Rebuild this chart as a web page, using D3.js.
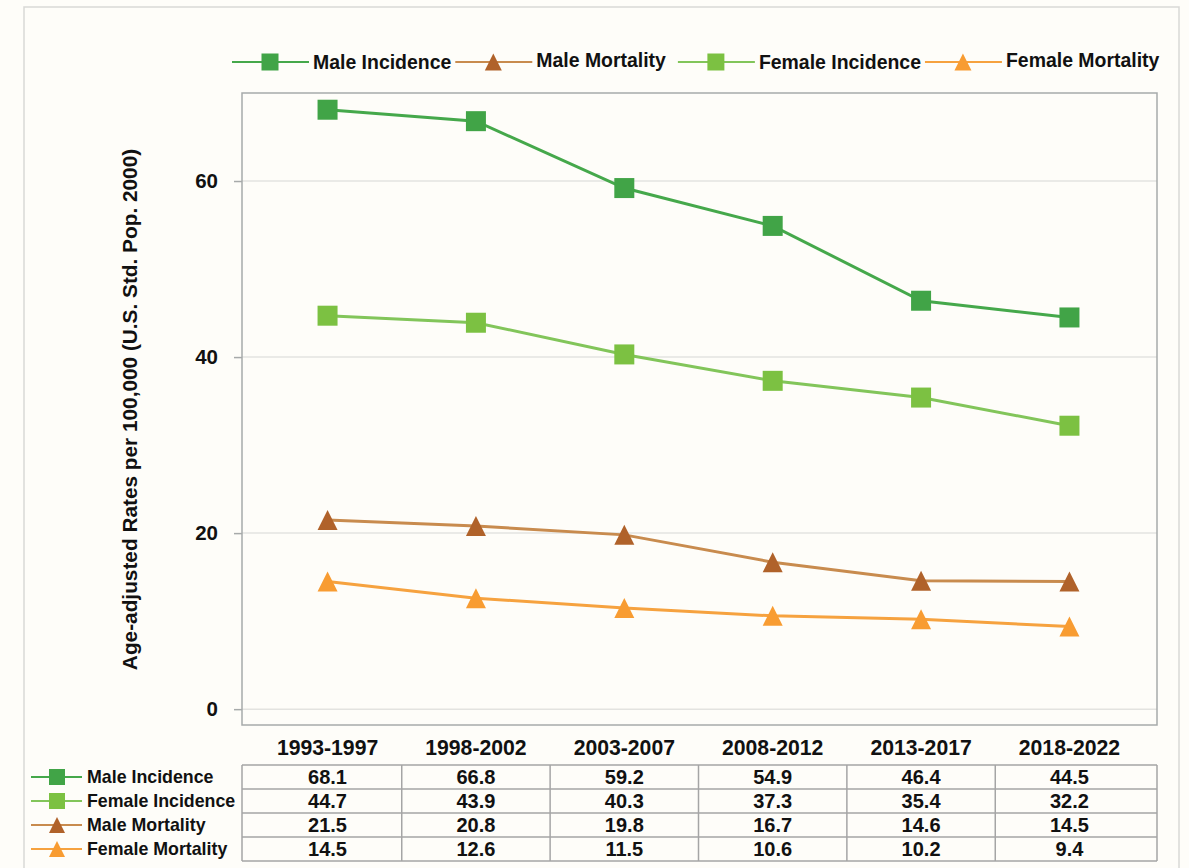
<!DOCTYPE html>
<html>
<head>
<meta charset="utf-8">
<script src="https://cdn.jsdelivr.net/npm/d3@7"></script>
<style>
  html, body { margin: 0; padding: 0; background: #fefdf9; }
  svg { display: block; font-family: "Liberation Sans", Arial, sans-serif; }
</style>
</head>
<body>
<svg id="chart" width="1189" height="868"></svg>
<script>
// ---------------- DATA ----------------
const periods = ["1993-1997", "1998-2002", "2003-2007", "2008-2012", "2013-2017", "2018-2022"];
const maleIncidence   = [68.1, 66.8, 59.2, 54.9, 46.4, 44.5];
const femaleIncidence = [44.7, 43.9, 40.3, 37.3, 35.4, 32.2];
const maleMortality   = [21.5, 20.8, 19.8, 16.7, 14.6, 14.5];
const femaleMortality = [14.5, 12.6, 11.5, 10.6, 10.2, 9.4];
const yTicks = [0, 20, 40, 60];
const yTitle = "Age-adjusted Rates per 100,000 (U.S. Std. Pop. 2000)";

const seriesNames = ["Male Incidence", "Male Mortality", "Female Incidence", "Female Mortality"];
const tableOrder  = ["Male Incidence", "Female Incidence", "Male Mortality", "Female Mortality"];

const seriesStyle = {
  "Male Incidence":   { values: maleIncidence,   marker: "square",   fill: "#41a447", line: "#45a84b" },
  "Female Incidence": { values: femaleIncidence, marker: "square",   fill: "#7cc142", line: "#82c55a" },
  "Male Mortality":   { values: maleMortality,   marker: "triangle", fill: "#b0622a", line: "#c88b4e" },
  "Female Mortality": { values: femaleMortality, marker: "triangle", fill: "#f89c32", line: "#f6a23f" }
};

// ---------------- LAYOUT ----------------
const W = 1189, H = 868;
const plot = { left: 242, right: 1157, top: 93, bottom: 725 };
const svg = d3.select("#chart");

svg.append("rect").attr("x", 0).attr("y", 0).attr("width", W).attr("height", H).attr("fill", "#fefdf9");
// outer frame
svg.append("rect").attr("x", 24).attr("y", 7).attr("width", 1155).attr("height", H + 20)
  .attr("fill", "none").attr("stroke", "#d9d9d6").attr("stroke-width", 1.5);

const x = d3.scalePoint().domain(periods).range([plot.left - 2, plot.right]).padding(0.59);
const y = d3.scaleLinear().domain([-1.8, 70]).range([plot.bottom, plot.top]);

// gridlines
svg.append("g").selectAll("line").data(yTicks).join("line")
  .attr("x1", plot.left).attr("x2", plot.right)
  .attr("y1", d => y(d)).attr("y2", d => y(d))
  .attr("stroke", "#e3e3e0").attr("stroke-width", 1.5);

// plot border
svg.append("rect").attr("x", plot.left).attr("y", plot.top)
  .attr("width", plot.right - plot.left).attr("height", plot.bottom - plot.top)
  .attr("fill", "none").attr("stroke", "#a7aaaa").attr("stroke-width", 1.5);

// y axis
const yAxis = d3.axisLeft(y).tickValues(yTicks).tickSize(8).tickPadding(16).tickFormat(d3.format("d"));
const gy = svg.append("g").attr("transform", `translate(${plot.left},0)`).call(yAxis);
gy.select(".domain").remove();
gy.selectAll(".tick line").attr("stroke", "#a7aaaa").attr("stroke-width", 1.5);
gy.selectAll(".tick text").attr("font-size", 20.5).attr("font-weight", "bold").attr("fill", "#111")
  .attr("font-family", "'Liberation Sans', Arial, sans-serif");

// y title
svg.append("text")
  .attr("transform", `translate(137, ${(147 + 672) / 2}) rotate(-90)`)
  .attr("text-anchor", "middle").attr("font-size", 20.8).attr("font-weight", "bold").attr("fill", "#111")
  .text(yTitle);

// markers
function drawMarker(g, type, cx, cy, size, fill) {
  if (type === "square") {
    g.append("rect").attr("x", cx - size / 2).attr("y", cy - size / 2)
      .attr("width", size).attr("height", size).attr("fill", fill);
  } else {
    const h = size;
    g.append("path")
      .attr("d", `M${cx},${cy - h / 2} L${cx + size / 2},${cy + h / 2} L${cx - size / 2},${cy + h / 2} Z`)
      .attr("fill", fill);
  }
}

// series lines
const lineGen = d3.line().x((d, i) => x(periods[i])).y(d => y(d));
const drawOrder = ["Female Mortality", "Male Mortality", "Female Incidence", "Male Incidence"];
drawOrder.forEach(name => {
  const s = seriesStyle[name];
  const g = svg.append("g");
  g.append("path").attr("d", lineGen(s.values)).attr("fill", "none")
    .attr("stroke", s.line).attr("stroke-width", 3);
  s.values.forEach((v, i) => drawMarker(g, s.marker, x(periods[i]), y(v), 20, s.fill));
});

// top legend
const legendY = 62;
let lx = 232;
const legG = svg.append("g");
seriesNames.forEach((name, k) => {
  const s = seriesStyle[name];
  legG.append("line").attr("x1", lx).attr("x2", lx + 77).attr("y1", legendY).attr("y2", legendY)
    .attr("stroke", s.line).attr("stroke-width", 2);
  drawMarker(legG, s.marker, lx + 38, legendY, 17, s.fill);
  const t = legG.append("text").attr("x", lx + 81).attr("y", legendY + (s.marker === "triangle" ? 5 : 7))
    .attr("font-size", 19.45).attr("font-weight", "bold").attr("fill", "#111").text(name);
  lx = lx + 81 + t.node().getComputedTextLength() + (k === 1 ? 12 : 4);
});

// data table
const bounds = [plot.left];
for (let i = 0; i < periods.length - 1; i++) bounds.push((x(periods[i]) + x(periods[i + 1])) / 2);
bounds.push(plot.right);
const rowTop = 765, rowH = 24;

// header labels
svg.append("g").selectAll("text").data(periods).join("text")
  .attr("x", d => x(d)).attr("y", 755)
  .attr("text-anchor", "middle").attr("font-size", 21.2).attr("font-weight", "bold").attr("fill", "#111")
  .text(d => d);

const tg = svg.append("g");
tableOrder.forEach((name, r) => {
  const s = seriesStyle[name];
  const cy = rowTop + r * rowH + rowH / 2;
  tg.append("line").attr("x1", 31).attr("x2", 82).attr("y1", cy).attr("y2", cy)
    .attr("stroke", s.line).attr("stroke-width", 2);
  drawMarker(tg, s.marker, 57, cy, 16, s.fill);
  tg.append("text").attr("x", 87).attr("y", cy + 6)
    .attr("font-size", 17.8).attr("font-weight", "bold").attr("fill", "#111").text(name);
  s.values.forEach((v, i) => {
    tg.append("text").attr("x", x(periods[i])).attr("y", cy + 7)
      .attr("text-anchor", "middle").attr("font-size", 20).attr("font-weight", "bold").attr("fill", "#111")
      .text(d3.format(".1f")(v));
  });
});
for (let r = 0; r <= tableOrder.length; r++) {
  tg.append("line").attr("x1", plot.left).attr("x2", plot.right)
    .attr("y1", rowTop + r * rowH).attr("y2", rowTop + r * rowH)
    .attr("stroke", "#a5a5a5").attr("stroke-width", 1.5);
}
bounds.forEach(bx => {
  tg.append("line").attr("x1", bx).attr("x2", bx)
    .attr("y1", rowTop).attr("y2", rowTop + tableOrder.length * rowH)
    .attr("stroke", "#a5a5a5").attr("stroke-width", 1.5);
});
</script>
</body>
</html>
